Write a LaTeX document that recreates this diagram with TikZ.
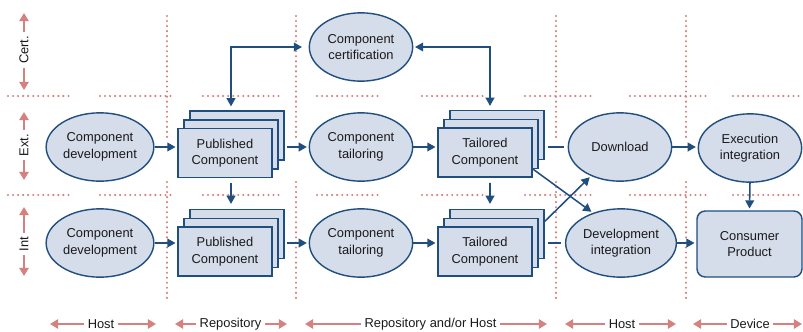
\documentclass[tikz,border=0pt]{standalone}
\usepackage{fontspec}
\setmainfont{Liberation Sans}
\usetikzlibrary{arrows.meta,positioning,calc,shapes.geometric}
\definecolor{nodefill}{HTML}{D5DCEA}
\definecolor{nodeline}{HTML}{1F4E7F}
\definecolor{zoneline}{HTML}{D4817F}
\definecolor{txtcol}{HTML}{1A1A1A}
\tikzset{
  proc/.style={ellipse,draw=nodeline,fill=nodefill,line width=1.2pt,minimum width=3.1cm,minimum height=2.05cm,align=center,inner sep=1pt,text=txtcol},
  card/.style={rectangle,draw=nodeline,fill=nodefill,line width=1.3pt,minimum width=2.82cm,minimum height=1.47cm,align=center,text=txtcol},
  prod/.style={rectangle,rounded corners=7pt,draw=nodeline,fill=nodefill,line width=1.2pt,minimum width=3.15cm,minimum height=1.98cm,align=center,text=txtcol},
  arr/.style={-{Triangle[length=7pt,width=7.5pt]},draw=nodeline,line width=1.3pt,shorten >=1.5pt},
  dblarr/.style={{Triangle[length=7pt,width=7.5pt]}-{Triangle[length=7pt,width=7.5pt]},draw=nodeline,line width=1.3pt},
  link/.style={draw=nodeline,line width=1.3pt},
  zone/.style={draw=zoneline,line width=2pt,line cap=round,dash pattern=on 0pt off 4.3pt},
  zarr/.style={-{Triangle[length=7pt,width=8pt]},draw=zoneline,line width=1.6pt},
  zlbl/.style={text=txtcol,inner xsep=3pt,inner ysep=1pt}
}
% stack of three cards: name, position, text
\newcommand{\cardstack}[3]{%
  \node[card,xshift=0.36cm,yshift=0.52cm] (#1-b2) at (#2) {};
  \node[card,xshift=0.18cm,yshift=0.26cm] (#1-b1) at (#2) {};
  \node[card] (#1) at (#2) {#3};
}

\begin{document}
\begin{tikzpicture}[x=0.03cm,y=-0.03cm,font=\fontsize{11}{14}\selectfont]
  \useasboundingbox (0,0) rectangle (803,331);
  % Zone boundaries
  \foreach \x in {167,296,556,686} {
    \draw[zone] (\x,16) -- (\x,138);
    \draw[zone] (\x,182) -- (\x,302);
  }
  \foreach \y in {96,195} \foreach \a/\b in {8/70,100/175,203/280,317/380,422/485,525/595,630/707,733/800}
    \draw[zone] (\a,\y) -- (\b,\y);

  % Row axis
  \foreach \n/\t/\c/\a/\b in {cert/Cert./50/13/90, ext/Ext./145/112/180, int/Int/244/207/276} {
    \node[zlbl,rotate=90] (lbl-\n) at (24,\c) {\t};
    \coordinate (\n-top) at (24,\a);
    \coordinate (\n-bot) at (24,\b);
    \draw[zarr] (lbl-\n.east) -- (\n-top);
    \draw[zarr] (lbl-\n.west) -- (\n-bot);
  }

  % Location axis
  \foreach \n/\c/\a/\b/\t in {hostA/101/50/156/Host, repo/230.5/175/287/Repository, repohost/430.5/305/547/{Repository and\slash or Host}, hostB/622/565/676/Host, device/750/693/802/Device} {
    \node[zlbl] (lbl-\n) at (\c,324) {\t};
    \coordinate (\n-l) at (\a,324);
    \coordinate (\n-r) at (\b,324);
    \draw[zarr] (lbl-\n.west) -- (\n-l);
    \draw[zarr] (lbl-\n.east) -- (\n-r);
  }

  % Certification
  \node[proc] (cert) at (361,47) {Component\\certification};

  % External row
  \node[proc] (devE) at (100,147) {Component\\development};
  \cardstack{pubE}{225,153}{Published\\Component}
  \node[proc] (tlrE) at (361,147) {Component\\tailoring};
  \cardstack{tailE}{485,152.5}{Tailored\\Component}
  \node[proc] (dl) at (620,147) {Download};
  \node[proc] (exe) at (750,148) {Execution\\integration};

  % Internal row
  \node[proc] (devI) at (100,243) {Component\\development};
  \cardstack{pubI}{225,251.5}{Published\\Component}
  \node[proc] (tlrI) at (361,243) {Component\\tailoring};
  \cardstack{tailI}{485,251.5}{Tailored\\Component}
  \node[proc] (dvint) at (621,243) {Development\\integration};
  \node[prod] (cons) at (749.5,244) {Consumer\\Product};

  % Flow along the rows
  \foreach \a/\b in {devE/pubE,devI/pubI,tlrE/tailE,tlrI/tailI,dl/exe,dvint/cons}
    \draw[arr] (\a.east) -- (\a.east -| \b.west);
  \foreach \a/\b in {pubE/tlrE,pubI/tlrI}
    \draw[arr,shorten <=0.07cm] (\b.west -| \a-b2.east) -- (\b.west);
  \foreach \a/\b in {tailE/dl,tailI/dvint}
    \draw[link,shorten <=0.1cm,shorten >=0.12cm] (\b.west -| \a-b2.east) -- (\b.west);
  \draw[arr] (exe.south) -- (cons.north);

  % External to internal
  \draw[arr,shorten <=0.15cm,shorten >=0.15cm] (pubE.south -| pubI-b1) -- (pubI-b2.north -| pubI-b1);
  \draw[arr,shorten <=0.15cm,shorten >=0.15cm] ($(tailE.south)+(5,0)$) -- ($(tailI-b2.north)+(-7,0)$);
  \draw[arr] (tailE.-19) -- (dvint.133);
  \draw[arr] (tailI-b2.15) -- (dl.-135);

  % Certification loop
  \draw[dblarr,shorten <=0.12cm,shorten >=0.2cm] (pubE-b2.north -| pubE-b1) |- (cert.west);
  \draw[dblarr,shorten <=0.05cm,shorten >=0.12cm] (cert.east) -| ($(tailE-b2.north)+(-7,0)$);
\end{tikzpicture}
\end{document}
